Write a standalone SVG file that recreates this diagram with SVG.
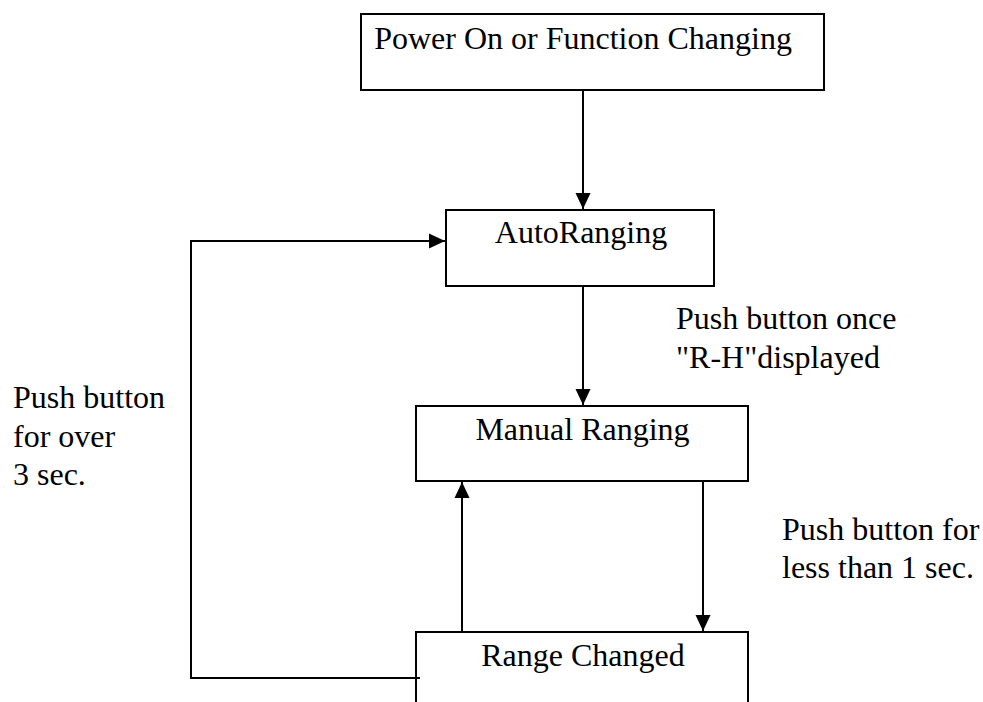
<svg xmlns="http://www.w3.org/2000/svg" width="983" height="702" viewBox="0 0 983 702">
<style>
.box{fill:#fff;stroke:#000;stroke-width:2}
.t{font-family:"Liberation Serif","Times New Roman",serif;font-size:32px;fill:#000}
.c{text-anchor:middle}
.ln{fill:none;stroke:#000;stroke-width:2}
</style>
<defs>
<marker id="ah" markerUnits="userSpaceOnUse" markerWidth="16" markerHeight="16" viewBox="0 0 16 16" refX="16" refY="8" orient="auto">
<path d="M0,0.5 L16,8 L0,15.5 Z" fill="#000"/>
</marker>
</defs>
<g id="n1"><rect class="box" x="361" y="14" width="463" height="76"/><text class="t c" x="583" y="49">Power On or Function Changing</text></g>
<g id="n2"><rect class="box" x="446" y="210" width="268" height="76"/><text class="t c" x="581" y="243">AutoRanging</text></g>
<g id="n3"><rect class="box" x="416" y="406" width="332" height="75"/><text class="t c" x="582.5" y="440">Manual Ranging</text></g>
<g id="n4"><rect class="box" x="416" y="632" width="332" height="90"/><text class="t c" x="583" y="666">Range Changed</text></g>
<g id="connectors">
<line class="ln" x1="583" y1="90" x2="583" y2="209" marker-end="url(#ah)"/>
<line class="ln" x1="583" y1="286" x2="583" y2="405" marker-end="url(#ah)"/>
<line class="ln" x1="703" y1="481" x2="703" y2="631" marker-end="url(#ah)"/>
<line class="ln" x1="462" y1="632" x2="462" y2="482" marker-end="url(#ah)"/>
<polyline class="ln" points="420,678 191,678 191,241 445,241" marker-end="url(#ah)"/>
</g>
<g id="labels">
<text class="t" x="676" y="329">Push button once</text>
<text class="t" x="676" y="368">"R-H"displayed</text>
<text class="t" x="13" y="408">Push button</text>
<text class="t" x="13" y="447">for over</text>
<text class="t" x="13" y="485">3 sec.</text>
<text class="t" x="782" y="540">Push button for</text>
<text class="t" x="782" y="578">less than 1 sec.</text>
</g>
</svg>
